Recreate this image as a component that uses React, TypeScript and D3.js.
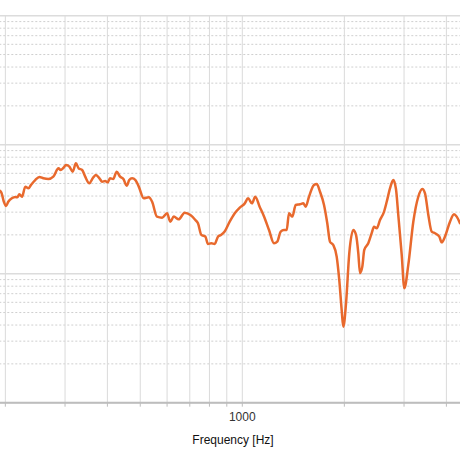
import React from "react";
import * as d3 from "d3";

const FREQ = [193,195,198,201,204,209,214,217,220,224,229,234,238,245,252,259,268,277,287,291,297,302,309,316,323,329,337,344,354,362,370,379,386,394,401,407,416,426,436,446,456,464,473,484,495,512,530,542,560,580,600,613,628,649,676,703,727,740,757,778,792,810,829,848,867,887,918,950,983,1017,1040,1068,1092,1125,1159,1199,1240,1268,1298,1327,1352,1373,1405,1437,1480,1513,1538,1573,1627,1658,1695,1742,1781,1814,1855,1899,1932,1964,1986,2023,2068,2125,2165,2199,2224,2259,2290,2353,2408,2446,2492,2548,2618,2667,2727,2789,2840,2885,2953,3006,3088,3195,3305,3396,3459,3538,3620,3702,3812,3874,3962,4099,4212,4290,4387];
const LEVEL = [43.8,42.0,36.1,33.5,36.1,38.4,39.3,39.1,41.3,39.5,47.3,45.9,48.7,53.2,56.2,54.9,54.2,56.5,65.6,63.7,66.3,69.6,67.5,61.8,71.7,65.6,63.7,56.5,50.2,54.9,58.2,54.9,51.7,52.3,51.1,54.9,54.2,61.8,56.5,54.2,48.1,53.2,54.9,53.2,47.3,38.4,39.1,36.1,27.7,27.2,29.4,25.3,27.7,26.4,29.7,28.5,26.1,24.6,20.0,19.4,17.0,17.2,17.0,19.4,20.0,21.2,25.3,29.4,32.5,35.1,38.4,35.1,39.5,33.1,27.8,21.8,17.2,17.7,21.2,21.8,21.8,29.4,27.7,34.1,34.5,35.1,33.1,39.5,48.7,49.6,43.2,34.1,24.6,17.7,16.7,13.5,8.94,5.23,3.88,5.90,14.4,21.8,20.0,14.4,10.1,11.3,15.3,17.2,20.6,23.1,22.5,26.1,30.2,36.1,45.9,53.2,45.4,28.5,14.0,7.70,11.7,25.3,39.5,45.4,42.0,28.5,21.2,20.6,19.4,17.5,19.4,25.3,28.9,27.7,24.6];

const X_DOMAIN = [100, 10000];
const Y_DOMAIN = [1, 1000];
const X_TICK_LABELS = [1000];
const X_LABEL = "Frequency [Hz]";

export default function App() {
  const W = 460, H = 460;
  const top = 15.7, bottom = 402.7;
  const x = d3.scaleLog().domain(X_DOMAIN).range([242.3 - 339, 242.3 + 339]);
  const y = d3.scaleLog().domain(Y_DOMAIN).range([bottom, top]);

  const xGrid: number[] = [];
  for (let d = 100; d <= 10000; d *= 10) {
    for (let m = 1; m <= 9; m++) {
      const v = d * m;
      if (v <= 10000) xGrid.push(v);
    }
  }
  const yMajor: number[] = [1, 10, 100, 1000];
  const yMinor: number[] = [];
  for (let d = 1; d < 1000; d *= 10) {
    for (let m = 2; m <= 9; m++) yMinor.push(d * m);
  }

  const data = FREQ.map((f, i) => [f, LEVEL[i]] as [number, number]);
  const line = d3
    .line<[number, number]>()
    .x((d) => x(d[0]))
    .y((d) => y(d[1]))
    .curve(d3.curveMonotoneX);

  const left = x(X_DOMAIN[0]);
  const right = x(X_DOMAIN[1]);

  return (
    <svg
      width={W}
      height={H}
      style={{ position: "absolute", left: 0, top: 0, background: "#fff" }}
      fontFamily="'Liberation Sans', Arial, sans-serif"
    >
      <rect x={0} y={0} width={W} height={H} fill="#fff" />
      {yMinor.map((v) => (
        <line
          key={"ym" + v}
          x1={left}
          x2={right}
          y1={y(v)}
          y2={y(v)}
          stroke="#cfcfcf"
          strokeWidth={1}
          strokeDasharray="2,2"
        />
      ))}
      {xGrid.map((v) => (
        <line
          key={"xg" + v}
          x1={x(v)}
          x2={x(v)}
          y1={top}
          y2={bottom}
          stroke="#dadada"
          strokeWidth={1}
        />
      ))}
      {yMajor.map((v) => (
        <line
          key={"yM" + v}
          x1={left}
          x2={right}
          y1={y(v)}
          y2={y(v)}
          stroke="#dcdcdc"
          strokeWidth={1.5}
        />
      ))}
      <line x1={left} x2={right} y1={bottom} y2={bottom} stroke="#bdbdbd" strokeWidth={2} />
      {xGrid.map((v) => (
        <line
          key={"xt" + v}
          x1={x(v)}
          x2={x(v)}
          y1={bottom}
          y2={bottom + 4}
          stroke="#bdbdbd"
          strokeWidth={1}
        />
      ))}
      {X_TICK_LABELS.map((v) => (
        <text
          key={"xl" + v}
          x={x(v)}
          y={421}
          textAnchor="middle"
          fontSize={12}
          fill="#333"
        >
          {v}
        </text>
      ))}
      <text x={233} y={444} textAnchor="middle" fontSize={12} fill="#111">
        {X_LABEL}
      </text>
      <path
        d={line(data) || ""}
        fill="none"
        stroke="#e8692d"
        strokeWidth={2.5}
        strokeLinejoin="round"
        strokeLinecap="round"
      />
    </svg>
  );
}
